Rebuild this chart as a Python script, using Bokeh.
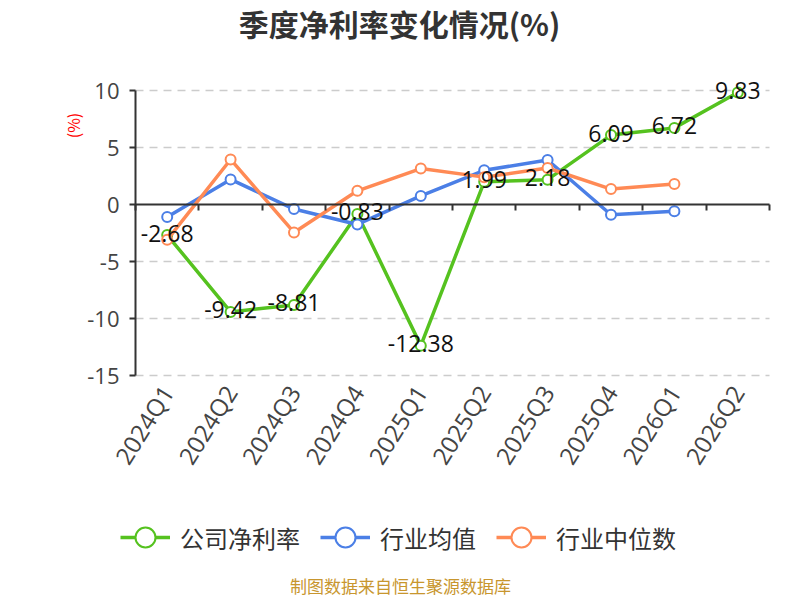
import math
from bokeh.plotting import figure
from bokeh.models import (Range1d, FixedTicker, LinearAxis, Legend, LegendItem,
                          Label, LabelSet, ColumnDataSource, CustomJSTickFormatter)
from bokeh.core.properties import value
from bokeh.embed import file_html
from bokeh.resources import INLINE

# ---------------- data ----------------
quarters = ["2024Q1", "2024Q2", "2024Q3", "2024Q4", "2025Q1",
            "2025Q2", "2025Q3", "2025Q4", "2026Q1", "2026Q2"]
company_margin = [-2.68, -9.42, -8.81, -0.83, -12.38, 1.99, 2.18, 6.09, 6.72, 9.83]
industry_avg = [-1.1, 2.2, -0.4, -1.75, 0.75, 3.0, 3.9, -0.9, -0.6]
industry_median = [-3.1, 3.95, -2.45, 1.2, 3.15, 2.4, 3.2, 1.35, 1.8]
y_ticks = [-15, -10, -5, 0, 5, 10]
series_names = ["公司净利率", "行业均值", "行业中位数"]
title_text = "季度净利率变化情况(%)"
y_unit = "(%)"
footer_text = "制图数据来自恒生聚源数据库"

# ---------------- style / layout ----------------
GREEN = "#55c21f"
BLUE = "#4b7fe6"
ORANGE = "#ff8a55"
CJK = "Noto Sans CJK SC"
NUM = "Open Sans"
W, H = 800, 600
PLOT_L, PLOT_R, PLOT_T, PLOT_B = 135, 769, 90, 375   # plot area in pixels

n = len(quarters)
y_lo, y_hi = y_ticks[0], y_ticks[-1]
kx = (PLOT_R - PLOT_L) / n
ky = (PLOT_B - PLOT_T) / (y_hi - y_lo)


def px_x(px):
    return (px - PLOT_L) / kx


def px_y(py):
    return y_hi - (py - PLOT_T) / ky


p = figure(width=W, height=H, output_backend="svg", toolbar_location=None,
           x_range=Range1d(px_x(0), px_x(W)), y_range=Range1d(px_y(H), px_y(0)),
           x_axis_location=None, y_axis_location=None,
           min_border=0)
p.outline_line_color = None
p.background_fill_color = "white"
p.border_fill_color = "white"
p.xgrid.visible = False
p.ygrid.visible = False

x_company = [i + 0.5 for i in range(len(company_margin))]
x_avg = [i + 0.5 for i in range(len(industry_avg))]
x_med = [i + 0.5 for i in range(len(industry_median))]

# dashed grid lines across the category extent
grid_ys = [t for t in y_ticks if t != 0]
p.segment(x0=[0] * len(grid_ys), x1=[n] * len(grid_ys), y0=grid_ys, y1=grid_ys,
          line_color="#cccccc", line_width=1.5, line_dash="8 6")

# y axis (fixed at the category start)
ya = LinearAxis(fixed_location=0, bounds=(y_lo, y_hi),
                ticker=FixedTicker(ticks=y_ticks, minor_ticks=[]),
                formatter=CustomJSTickFormatter(code="return tick.toString()"),
                axis_line_color="#333333", axis_line_width=2,
                major_tick_line_color="#333333", major_tick_line_width=2,
                major_tick_in=0, major_tick_out=6, minor_tick_line_color=None,
                major_label_standoff=10, major_label_text_font=NUM,
                major_label_text_font_size="22px", major_label_text_color="#444444")
p.add_layout(ya, "left")

# quarter labels along the bottom of the plot area
xa = LinearAxis(fixed_location=y_lo,
                ticker=FixedTicker(ticks=[i + 0.5 for i in range(n)], minor_ticks=[]),
                formatter=CustomJSTickFormatter(args=dict(labels=quarters),
                                                code="return labels[Math.floor(tick)] || ''"),
                axis_line_color=None, major_tick_line_color=None,
                minor_tick_line_color=None,
                major_label_orientation=math.radians(58),
                major_label_standoff=6, major_label_text_font=NUM,
                major_label_text_font_size="24px", major_label_text_color="#444444")
p.add_layout(xa, "below")

# zero axis line with ticks at category boundaries
zero_axis = LinearAxis(fixed_location=0, bounds=(0, n),
                       ticker=FixedTicker(ticks=list(range(n + 1)), minor_ticks=[]),
                       formatter=CustomJSTickFormatter(code="return ''"),
                       major_label_text_font_size="0px",
                       major_tick_in=0, major_tick_out=6,
                       major_tick_line_color="#333333", major_tick_line_width=2,
                       minor_tick_line_color=None,
                       axis_line_color="#333333", axis_line_width=2)
p.add_layout(zero_axis, "below")

# series
r_items = []
for xs, ys, col in [(x_company, company_margin, GREEN),
                    (x_avg, industry_avg, BLUE),
                    (x_med, industry_median, ORANGE)]:
    ln = p.line(xs, ys, line_color=col, line_width=3.5)
    sc = p.scatter(xs, ys, size=10, fill_color="white", line_color=col, line_width=2)
    r_items.append([ln, sc])

# data labels for company margin
src = ColumnDataSource(dict(x=x_company, y=company_margin,
                            t=[f"{v:.2f}" for v in company_margin]))
labels = LabelSet(x="x", y="y", text="t", source=src, text_align="center",
                  text_baseline="middle", y_offset=2, text_font=value(NUM),
                  text_font_size=value("23px"), text_color="#111111")
p.add_layout(labels)

# legend
legend = Legend(items=[LegendItem(label=name, renderers=rs)
                       for name, rs in zip(series_names, r_items)],
                orientation="horizontal", location=(120, H - 562),
                glyph_width=50, glyph_height=50, label_standoff=10, spacing=20,
                padding=0, margin=0, border_line_color=None,
                background_fill_alpha=0, label_text_font=CJK,
                label_text_font_size="24px", label_text_color="#333333")
p.add_layout(legend)

# title, y unit, footer
p.add_layout(Label(x=px_x(399), y=px_y(22), text=title_text,
                   text_align="center", text_baseline="middle", text_font=CJK,
                   text_font_size="30px", text_font_style="bold",
                   text_color="#333333"))
p.add_layout(Label(x=px_x(72), y=px_y(125), text=y_unit, angle=math.pi / 2,
                   text_align="center", text_baseline="middle", text_font=CJK,
                   text_font_size="16px", text_color="red"))
p.add_layout(Label(x=px_x(400), y=px_y(585), text=footer_text,
                   text_align="center", text_baseline="middle", text_font=CJK,
                   text_font_size="17px", text_color="#c8962e"))

open("out.html", "w").write(file_html(p, INLINE))
